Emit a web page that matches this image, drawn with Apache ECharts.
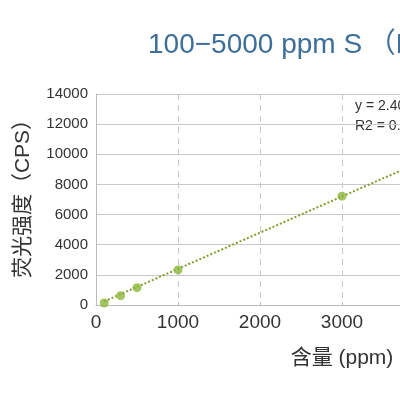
<!DOCTYPE html>
<html>
<head>
    <meta charset="utf-8">
    <title>S 标准曲线</title>
    <script src="https://cdn.jsdelivr.net/npm/echarts@6/dist/echarts.min.js"></script>
    <style>
        html, body { margin: 0; padding: 0; background: #fff; }
    </style>
</head>
<body>
<div id="main" style="width: 400px;height:400px;"></div>

<script type="text/javascript">
    // 含量 (ppm) 和 荧光强度 (CPS)
    var hanliang = [100, 300, 500, 1000, 3000, 5000];
    var qiangdu = [130, 620, 1150, 2330, 7220, 12050];
    // 趋势线两端
    var quxian_x = [100, 5000];
    var quxian_y = [240, 12000];
    var y_ticks = [0, 2000, 4000, 6000, 8000, 10000, 12000, 14000];
    var gongshi = ['y = 2.4035x - 10.658', 'R2 = 0.9998'];

    var dian = [];
    for (var i = 0; i < hanliang.length; i++) {
        dian.push([hanliang[i], qiangdu[i]]);
    }
    var xian = [];
    for (var i = 0; i < quxian_x.length; i++) {
        xian.push([quxian_x[i], quxian_y[i]]);
    }

    var ziti = '"Liberation Sans", "Noto Sans CJK SC", sans-serif';
    var myChart = echarts.init(document.getElementById('main'));
    myChart.setOption({
        animation: false,
        title: [{
            text: '100\u22125000 ppm S\u2009\uff08B\u6807\u51c6\u66f2\u7ebf\uff09',
            left: 143,
            top: 26,
            textStyle: {color: '#3d6f98', fontSize: 28, fontWeight: 'normal', fontFamily: ziti}
        }],
        grid: {left: 96, top: 94, width: 410, height: 211, containLabel: false, outerBoundsMode: 'none'},
        xAxis: {
            type: 'value',
            min: 0,
            max: 5000,
            interval: 1000,
            name: '含量 (ppm)',
            nameLocation: 'middle',
            nameGap: 43,
            nameTextStyle: {color: '#333', fontSize: 21, fontFamily: ziti, padding: [0, 0, 0, 82]},
            axisLine: {lineStyle: {color: '#bbb'}},
            axisTick: {show: true, inside: true, length: 3, lineStyle: {color: '#bbb'}},
            axisLabel: {
                color: '#333', fontSize: 19, margin: 8, fontFamily: ziti,
                formatter: function (v) { return String(v); }
            },
            splitLine: {show: true, lineStyle: {color: '#c8c8c8', type: [6, 5]}}
        },
        yAxis: {
            type: 'value',
            min: 0,
            max: 14000,
            interval: 2000,
            name: '荧光强度（CPS）',
            nameLocation: 'middle',
            nameGap: 62,
            nameTextStyle: {color: '#333', fontSize: 21, fontFamily: ziti, padding: [0, 0, 0, 12]},
            axisLine: {show: true, lineStyle: {color: '#bbb'}},
            axisTick: {show: false},
            axisLabel: {
                color: '#333', fontSize: 15, margin: 8, fontFamily: ziti,
                formatter: function (v) { return y_ticks.indexOf(v) >= 0 ? String(v) : ''; }
            },
            splitLine: {lineStyle: {color: '#c8c8c8'}}
        },
        graphic: [
            {type: 'text', left: 355, top: 99, style: {text: gongshi[0], fill: '#333', font: '14px ' + ziti}},
            {type: 'text', left: 355, top: 119, style: {text: gongshi[1], fill: '#333', font: '14px ' + ziti}}
        ],
        series: [
            {
                name: '趋势线',
                type: 'line',
                data: xian,
                symbol: 'none',
                lineStyle: {color: '#7f9e2c', width: 2, type: [2, 2]},
                z: 2
            },
            {
                name: '数据',
                type: 'scatter',
                data: dian,
                symbolSize: 9,
                itemStyle: {color: '#8cb73a'},
                z: 3
            }
        ]
    });
</script>
</body>
</html>
